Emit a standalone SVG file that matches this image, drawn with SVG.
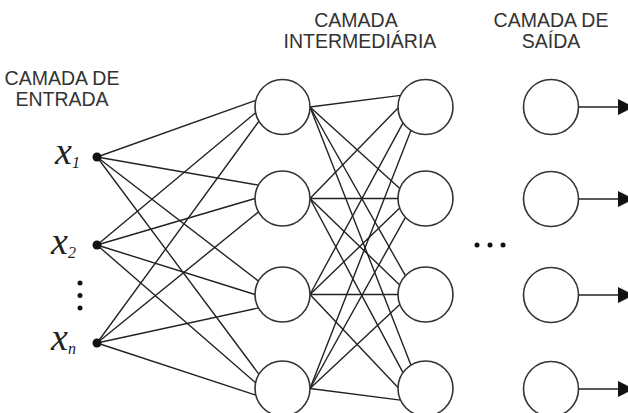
<svg xmlns="http://www.w3.org/2000/svg" width="628" height="413" viewBox="0 0 628 413">
<style>
.lbl{font-family:"Liberation Sans",Arial,sans-serif;font-size:19.5px;fill:#333;text-anchor:middle}
.var{font-family:"Liberation Serif","Times New Roman",serif;font-style:italic;fill:#222}
.node{fill:#fff;stroke:#333;stroke-width:1.6}
.edge{stroke:#222;stroke-width:1.4;fill:none}
.dot{fill:#111}
</style>
<defs>
<marker id="ah" viewBox="0 0 16 16" refX="0" refY="8" markerWidth="16" markerHeight="16" markerUnits="userSpaceOnUse" orient="auto">
<path d="M0,0 L16,8 L0,16 Z" fill="#111"/>
</marker>
</defs>
<rect width="628" height="413" fill="#fff"/>
<g id="labels">
<text class="lbl" x="62" y="85">CAMADA DE</text>
<text class="lbl" x="62" y="106">ENTRADA</text>
<text class="lbl" x="356" y="27">CAMADA</text>
<text class="lbl" x="360" y="48">INTERMEDIÁRIA</text>
<text class="lbl" x="551" y="27">CAMADA DE</text>
<text class="lbl" x="551" y="48">SAÍDA</text>
</g>
<g id="connectors">
<line class="edge" x1="97" y1="157" x2="255.8" y2="100.3"/>
<line class="edge" x1="97" y1="245" x2="255.6" y2="112.7"/>
<line class="edge" x1="97" y1="343" x2="259" y2="121.2"/>
<line class="edge" x1="97" y1="157" x2="258.5" y2="185.1"/>
<line class="edge" x1="97" y1="245" x2="255" y2="198.5"/>
<line class="edge" x1="97" y1="343" x2="258.5" y2="211.9"/>
<line class="edge" x1="97" y1="157" x2="258.5" y2="281.1"/>
<line class="edge" x1="97" y1="245" x2="255" y2="294.5"/>
<line class="edge" x1="97" y1="343" x2="258.5" y2="307.9"/>
<line class="edge" x1="97" y1="157" x2="259" y2="374.3"/>
<line class="edge" x1="97" y1="245" x2="255.6" y2="382.8"/>
<line class="edge" x1="97" y1="343" x2="255.8" y2="395.1"/>
<line class="edge" x1="310" y1="107" x2="400.6" y2="95.4"/>
<line class="edge" x1="310" y1="198.5" x2="398.0" y2="108"/>
<line class="edge" x1="310" y1="294.5" x2="403" y2="122.8"/>
<line class="edge" x1="310" y1="388.5" x2="411" y2="130.3"/>
<line class="edge" x1="310" y1="107" x2="399.8" y2="188.6"/>
<line class="edge" x1="310" y1="198.5" x2="398" y2="198.5"/>
<line class="edge" x1="310" y1="294.5" x2="399.7" y2="207.9"/>
<line class="edge" x1="310" y1="388.5" x2="405.4" y2="217.3"/>
<line class="edge" x1="310" y1="107" x2="405.4" y2="275.7"/>
<line class="edge" x1="310" y1="198.5" x2="399.7" y2="285.1"/>
<line class="edge" x1="310" y1="294.5" x2="398" y2="294.5"/>
<line class="edge" x1="310" y1="388.5" x2="399.8" y2="304.4"/>
<line class="edge" x1="310" y1="107" x2="411" y2="365.2"/>
<line class="edge" x1="310" y1="198.5" x2="403" y2="372.7"/>
<line class="edge" x1="310" y1="294.5" x2="398" y2="387.5"/>
<line class="edge" x1="310" y1="388.5" x2="400.6" y2="400.1"/>
<line class="edge" x1="578.5" y1="107" x2="618" y2="107" marker-end="url(#ah)"/>
<line class="edge" x1="578.5" y1="199" x2="618" y2="199" marker-end="url(#ah)"/>
<line class="edge" x1="578.5" y1="295" x2="618" y2="295" marker-end="url(#ah)"/>
<line class="edge" x1="578.5" y1="389" x2="618" y2="389" marker-end="url(#ah)"/>
</g>
<g id="input1"><circle class="dot" cx="97" cy="157" r="4.5"/><text class="var" x="55" y="164" font-size="38">x</text><text class="var" x="72" y="168" font-size="16">1</text></g>
<g id="input2"><circle class="dot" cx="97" cy="245" r="4.5"/><text class="var" x="51" y="254" font-size="38">x</text><text class="var" x="68" y="258" font-size="16">2</text></g>
<g id="inputn"><circle class="dot" cx="97" cy="343" r="4.5"/><text class="var" x="51" y="350" font-size="38">x</text><text class="var" x="68" y="354" font-size="16">n</text></g>
<g id="vdots"><circle class="dot" cx="80" cy="283" r="2.5"/><circle class="dot" cx="80" cy="295.5" r="2.5"/><circle class="dot" cx="80" cy="308" r="2.5"/></g>
<g id="hdots"><circle class="dot" cx="477" cy="245" r="2.5"/><circle class="dot" cx="490" cy="245" r="2.5"/><circle class="dot" cx="503" cy="245" r="2.5"/></g>
<g id="h1n1"><circle class="node" cx="282.5" cy="107" r="27.5"/></g>
<g id="h1n2"><circle class="node" cx="282.5" cy="198.5" r="27.5"/></g>
<g id="h1n3"><circle class="node" cx="282.5" cy="294.5" r="27.5"/></g>
<g id="h1n4"><circle class="node" cx="282.5" cy="388.5" r="27.5"/></g>
<g id="h2n1"><circle class="node" cx="425.5" cy="107" r="27.5"/></g>
<g id="h2n2"><circle class="node" cx="425.5" cy="198.5" r="27.5"/></g>
<g id="h2n3"><circle class="node" cx="425.5" cy="294.5" r="27.5"/></g>
<g id="h2n4"><circle class="node" cx="425.5" cy="388.5" r="27.5"/></g>
<g id="o1"><circle class="node" cx="551" cy="107" r="27.5"/></g>
<g id="o2"><circle class="node" cx="551" cy="199" r="27.5"/></g>
<g id="o3"><circle class="node" cx="551" cy="295" r="27.5"/></g>
<g id="o4"><circle class="node" cx="551" cy="389" r="27.5"/></g>
</svg>
